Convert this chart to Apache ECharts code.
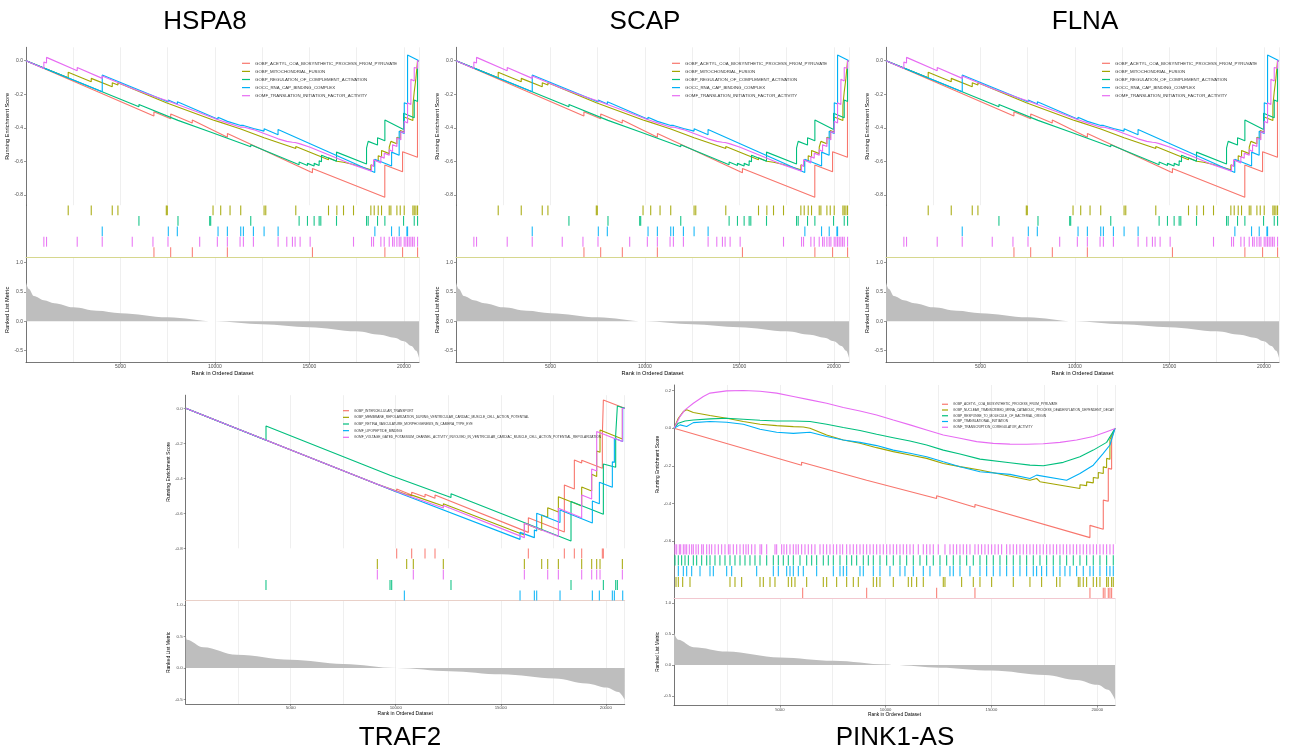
<!DOCTYPE html>
<html>
<head>
<meta charset="utf-8">
<script src="https://cdn.jsdelivr.net/npm/echarts@6/dist/echarts.min.js"></script>
<style>
  html, body { margin: 0; padding: 0; background: #fff; }
  #main { width: 1293px; height: 751px; }
</style>
</head>
<body>
<div id="main"></div>
<script>
// ---------- data ----------
// top row: HSPA8 / SCAP / FLNA show the same five gene sets
const topNames = [
  'GOBP_ACETYL_COA_BIOSYNTHETIC_PROCESS_FROM_PYRUVATE',
  'GOBP_MITOCHONDRIAL_FUSION',
  'GOBP_REGULATION_OF_COMPLEMENT_ACTIVATION',
  'GOCC_RNA_CAP_BINDING_COMPLEX',
  'GOMF_TRANSLATION_INITIATION_FACTOR_ACTIVITY'
];
const topN = 20800;
// running enrichment score, [rank, score] vertices
const topEsRed = [[0,0],[6770,-0.329],[6770,-0.304],[7660,-0.345],[7660,-0.317],[8800,-0.371],[8800,-0.353],[10660,-0.456],[10660,-0.433],[15160,-0.667],[15160,-0.641],[18990,-0.813],[18990,-0.621],[19930,-0.661],[19930,-0.542],[20720,-0.575],[20720,0],[20800,0]];
const topEsOlive = [[0,0],[2234,-0.101],[2234,-0.069],[3453,-0.125],[3453,-0.105],[4565,-0.155],[4565,-0.131],[4865,-0.145],[4865,-0.131],[7426,-0.25],[7426,-0.24],[9899,-0.353],[9899,-0.348],[10305,-0.367],[10305,-0.362],[10800,-0.385],[10800,-0.38],[11365,-0.406],[11365,-0.401],[12601,-0.458],[12601,-0.452],[12690,-0.456],[12690,-0.45],[14279,-0.523],[14279,-0.51],[16010,-0.59],[16010,-0.578],[16452,-0.598],[16452,-0.588],[16805,-0.604],[16805,-0.594],[17334,-0.618],[17334,-0.607],[18252,-0.649],[18252,-0.62],[18429,-0.628],[18429,-0.59],[18641,-0.6],[18641,-0.565],[18817,-0.573],[18817,-0.535],[19224,-0.553],[19224,-0.515],[19312,-0.519],[19312,-0.48],[19630,-0.494],[19630,-0.455],[19806,-0.463],[19806,-0.415],[20018,-0.425],[20018,-0.335],[20477,-0.356],[20477,-0.265],[20548,-0.268],[20548,-0.185],[20636,-0.189],[20636,-0.105],[20724,-0.109],[20724,0],[20800,0]];
const topEsGreen = [[0,0],[5977,-0.274],[5977,-0.26],[8044,-0.355],[8044,-0.345],[9722,-0.423],[9722,-0.413],[11895,-0.512],[11895,-0.5],[14455,-0.619],[14455,-0.603],[14897,-0.623],[14897,-0.611],[15250,-0.627],[15250,-0.611],[15515,-0.623],[15515,-0.595],[15639,-0.601],[15639,-0.563],[16434,-0.599],[16434,-0.544],[18023,-0.615],[18023,-0.52],[18111,-0.524],[18111,-0.48],[18605,-0.502],[18605,-0.458],[18994,-0.476],[18994,-0.353],[19983,-0.41],[19983,-0.313],[20548,-0.34],[20548,-0.234],[20724,-0.243],[20724,0],[20800,0]];
const topEsBlue = [[0,0],[4035,-0.185],[4035,-0.085],[7530,-0.246],[7530,-0.234],[8010,-0.258],[8010,-0.244],[10160,-0.349],[10160,-0.337],[10660,-0.361],[10660,-0.353],[11370,-0.385],[11370,-0.379],[11510,-0.385],[11510,-0.377],[12040,-0.403],[12040,-0.393],[12600,-0.419],[12600,-0.405],[13340,-0.44],[13340,-0.409],[18460,-0.665],[18460,-0.587],[19350,-0.627],[19350,-0.544],[19750,-0.563],[19750,-0.42],[20020,-0.433],[20020,-0.25],[20195,-0.258],[20195,0.034],[20800,0]];
const topEsMagenta = [[0,0],[945,-0.046],[945,-0.008],[1086,-0.014],[1086,0.02],[2711,-0.06],[2711,-0.04],[4035,-0.105],[4035,-0.091],[5624,-0.165],[5624,-0.155],[6719,-0.21],[6719,-0.2],[7514,-0.24],[7514,-0.23],[9192,-0.31],[9192,-0.3],[10128,-0.35],[10128,-0.34],[10658,-0.37],[10658,-0.36],[11330,-0.395],[11330,-0.385],[11506,-0.395],[11506,-0.385],[12036,-0.41],[12036,-0.4],[13343,-0.465],[13343,-0.455],[13802,-0.48],[13802,-0.47],[14102,-0.485],[14102,-0.478],[14243,-0.487],[14243,-0.48],[14508,-0.495],[14508,-0.488],[15038,-0.515],[15038,-0.508],[17334,-0.62],[17334,-0.61],[18288,-0.658],[18288,-0.62],[18394,-0.627],[18394,-0.59],[18782,-0.608],[18782,-0.57],[18959,-0.58],[18959,-0.55],[19224,-0.562],[19224,-0.53],[19400,-0.54],[19400,-0.5],[19630,-0.51],[19630,-0.46],[19842,-0.47],[19842,-0.42],[20018,-0.43],[20018,-0.36],[20195,-0.37],[20195,-0.25],[20371,-0.26],[20371,-0.11],[20548,-0.12],[20548,-0.04],[20724,-0.045],[20724,0],[20800,0]];
// gene hits (rug) per set
const topHitsRed = [6772,7656,8804,10658,15161,18994,19930,20724];
const topHitsOlive = [2234,3453,4565,4865,7426,7479,9899,10305,10800,11365,12601,12690,14279,16010,16452,16805,17334,18252,18429,18641,18817,19224,19312,19630,19806,20018,20477,20548,20636,20724];
const topHitsGreen = [5977,8044,9722,9775,11895,14455,14897,15250,15515,15603,16434,18023,18111,18605,18994,19983,20548,20724];
const topHitsBlue = [4035,7532,8009,10164,10658,11365,11506,12036,12601,13343,18464,19347,19753,20159,20195];
const topHitsMagenta = [945,1086,2711,4035,5624,6719,7514,9192,10128,10658,11330,11506,12036,13343,13802,14102,14243,14508,15038,17334,18288,18394,18782,18959,19224,19400,19489,19630,19753,19842,20018,20106,20195,20283,20371,20460,20548,20724];
// ranked list metric
const topMetricRank = [0,150,415,945,1500,2500,3750,5000,7500,10000,12500,15000,17500,18750,19500,20000,20400,20650,20800];
const topMetricValue = [0.66,0.55,0.43,0.36,0.31,0.24,0.18,0.14,0.07,0.0,-0.05,-0.10,-0.17,-0.23,-0.28,-0.34,-0.42,-0.50,-0.62];

// TRAF2
const traf2Names = [
  'GOBP_INTERCELLULAR_TRANSPORT',
  'GOBP_MEMBRANE_REPOLARIZATION_DURING_VENTRICULAR_CARDIAC_MUSCLE_CELL_ACTION_POTENTIAL',
  'GOBP_RETINA_VASCULATURE_MORPHOGENESIS_IN_CAMERA_TYPE_EYE',
  'GOMF_LIPOPEPTIDE_BINDING',
  'GOMF_VOLTAGE_GATED_POTASSIUM_CHANNEL_ACTIVITY_INVOLVED_IN_VENTRICULAR_CARDIAC_MUSCLE_CELL_ACTION_POTENTIAL_REPOLARIZATION'
];
const traf2N = 20900;
const traf2EsRed = [[0,0],[10044,-0.478],[10044,-0.461],[10758,-0.495],[10758,-0.48],[11393,-0.507],[11393,-0.491],[11869,-0.514],[11869,-0.495],[16313,-0.709],[16313,-0.625],[18027,-0.707],[18027,-0.438],[18503,-0.461],[18503,-0.295],[18852,-0.312],[18852,-0.297],[19836,-0.343],[19836,-0.152],[19884,-0.154],[19884,0.048],[20900,0]];
const traf2EsOlive = [[0,0],[9124,-0.434],[9124,-0.427],[10520,-0.493],[10520,-0.484],[10838,-0.499],[10838,-0.49],[12266,-0.558],[12266,-0.545],[16123,-0.724],[16123,-0.657],[16948,-0.697],[16948,-0.61],[17234,-0.623],[17234,-0.568],[17742,-0.592],[17742,-0.505],[18852,-0.558],[18852,-0.45],[19328,-0.472],[19328,-0.377],[19567,-0.389],[19567,-0.244],[19725,-0.251],[19725,-0.124],[20789,-0.175],[20789,0],[20900,0]];
const traf2EsGreen = [[0,0],[3823,-0.183],[3823,-0.101],[9727,-0.383],[9727,-0.377],[9807,-0.381],[9807,-0.377],[12631,-0.51],[12631,-0.488],[18344,-0.758],[18344,-0.533],[19884,-0.606],[19884,-0.318],[20471,-0.337],[20471,-0.152],[20551,-0.156],[20551,0.013],[20900,0]];
const traf2EsBlue = [[0,0],[10409,-0.495],[10409,-0.486],[15917,-0.749],[15917,-0.709],[16599,-0.739],[16599,-0.695],[16710,-0.701],[16710,-0.6],[17821,-0.653],[17821,-0.581],[19360,-0.655],[19360,-0.53],[19694,-0.545],[19694,-0.423],[20312,-0.451],[20312,-0.305],[20408,-0.309],[20408,-0.171],[20805,-0.19],[20805,0],[20900,0]];
const traf2EsMagenta = [[0,0],[9124,-0.434],[9124,-0.429],[10838,-0.51],[10838,-0.501],[12266,-0.57],[12266,-0.556],[16123,-0.739],[16123,-0.657],[17742,-0.733],[17742,-0.571],[18852,-0.625],[18852,-0.495],[19328,-0.518],[19328,-0.347],[19567,-0.358],[19567,-0.133],[20789,-0.19],[20789,0],[20900,0]];
const traf2HitsRed = [10044,10758,11393,11869,16313,18027,18503,18852,19836,19884];
const traf2HitsOlive = [9124,10520,10837,12265,16123,16948,17234,17742,18852,19328,19566,19725,20789];
const traf2HitsGreen = [3822,9727,9806,12630,18344,19884,20471,20551];
const traf2HitsBlue = [10410,15917,16599,16710,17821,19360,19693,20312,20408,20805];
const traf2HitsMagenta = [9124,10837,12265,16123,17234,17742,18852,19328,19566,19725,20789];
const traf2MetricRank = [0,50,840,2430,5000,7500,10050,12580,15040,17580,19090,20040,20600,20900];
const traf2MetricValue = [0.53,0.45,0.33,0.21,0.13,0.064,0.0,-0.05,-0.10,-0.165,-0.245,-0.31,-0.38,-0.50];

// PINK1-AS
const pinkNames = [
  'GOBP_ACETYL_COA_BIOSYNTHETIC_PROCESS_FROM_PYRUVATE',
  'GOBP_NUCLEAR_TRANSCRIBED_MRNA_CATABOLIC_PROCESS_DEADENYLATION_DEPENDENT_DECAY',
  'GOBP_RESPONSE_TO_MOLECULE_OF_BACTERIAL_ORIGIN',
  'GOBP_TRANSLATIONAL_INITIATION',
  'GOMF_TRANSCRIPTION_COREGULATOR_ACTIVITY'
];
const pinkN = 20840;
const pinkEsRed = [[0,0],[6030,-0.196],[6030,-0.181],[9104,-0.276],[9104,-0.267],[12411,-0.373],[12411,-0.359],[14222,-0.42],[14222,-0.405],[19656,-0.581],[19656,-0.516],[20286,-0.537],[20286,-0.382],[20523,-0.388],[20523,-0.213],[20680,-0.217],[20680,-0.053],[20840,0]];
const pinkEsOlive = [[0,0],[205,0.053],[441,0.089],[599,0.098],[914,0.084],[1701,0.068],[2489,0.053],[3276,0.036],[4064,0.021],[4851,0.014],[5639,0.009],[6111,0.007],[6426,0],[7214,-0.036],[8001,-0.062],[8789,-0.08],[9576,-0.103],[10364,-0.124],[11151,-0.142],[11939,-0.16],[12726,-0.187],[13514,-0.204],[14459,-0.222],[16821,-0.276],[17136,-0.267],[17294,-0.284],[19184,-0.32],[19184,-0.3],[19500,-0.305],[19500,-0.285],[19814,-0.29],[19814,-0.262],[20050,-0.266],[20050,-0.235],[20286,-0.24],[20286,-0.205],[20444,-0.21],[20444,-0.16],[20600,-0.165],[20600,-0.06],[20840,0]];
const pinkEsGreen = [[0,0],[205,0.027],[520,0.039],[914,0.044],[1701,0.05],[2489,0.053],[3276,0.048],[4064,0.043],[4851,0.039],[5639,0.039],[6426,0.036],[7214,0.021],[8001,0.004],[8789,-0.012],[9576,-0.032],[10364,-0.05],[11151,-0.068],[11939,-0.089],[12726,-0.116],[13514,-0.137],[14459,-0.164],[15876,-0.183],[16821,-0.196],[17451,-0.199],[18396,-0.181],[19184,-0.151],[19814,-0.116],[20444,-0.075],[20790,-0.01],[20840,0]];
const pinkEsBlue = [[0,0],[284,0.018],[599,0.009],[914,0.03],[1701,0.036],[2489,0.032],[3276,0.021],[4064,-0.005],[4851,-0.021],[5639,-0.027],[6426,-0.021],[7214,-0.044],[8001,-0.062],[8789,-0.075],[9576,-0.092],[10364,-0.116],[11151,-0.133],[11939,-0.151],[12726,-0.178],[13514,-0.204],[14459,-0.231],[15876,-0.245],[16821,-0.267],[17136,-0.249],[18554,-0.276],[19184,-0.24],[19814,-0.196],[20286,-0.133],[20601,-0.089],[20840,0]];
const pinkEsMagenta = [[0,0],[284,0.062],[520,0.098],[914,0.133],[1386,0.169],[1701,0.187],[2489,0.199],[3276,0.201],[4064,0.197],[4851,0.187],[5639,0.169],[6426,0.151],[7214,0.133],[8001,0.11],[8789,0.092],[9576,0.071],[10364,0.044],[11151,0.018],[11939,-0.009],[12726,-0.036],[13514,-0.053],[14301,-0.071],[15089,-0.08],[15876,-0.084],[16664,-0.085],[17451,-0.082],[18239,-0.075],[19026,-0.062],[19814,-0.044],[20444,-0.018],[20790,-0.004],[20840,0]];
const pinkHitsRed = [6080,9104,12411,14222,19656,20286,20365,20523,20601,20680];
const pinkHitsOlive = [95,205,410,756,2646,2882,3197,4064,4221,4536,4772,5402,5560,5717,6269,7056,7214,7686,8159,8474,8710,9419,9576,9734,10364,11072,11230,11466,11781,12726,12805,13592,14144,14459,15010,16034,16821,17372,18081,18239,19105,19184,19341,19499,19814,19971,20129,20444,20523,20680,20759];
const pinkHitsBlue = [205,441,599,835,1229,1701,1859,2489,2725,3906,4694,4930,5324,5481,5639,5875,6111,6741,7529,7844,8001,8159,8789,8946,9419,9734,10206,10679,10915,11309,11781,12096,12569,13041,13199,13514,13986,14459,14774,15089,15404,15719,16034,16349,16664,16979,17136,17372,17609,17924,18239,18475,18711,19026,19341,19656,19814,20129,20444,20601,20759];
const pinkHitsGreen = [47,205,360,520,680,914,1070,1307,1544,1701,1937,2170,2410,2646,2882,3119,3355,3590,3827,4064,4379,4694,4930,5166,5402,5639,5954,6269,6505,6741,7056,7292,7529,7844,8159,8395,8631,8946,9183,9419,9734,10049,10364,10679,10994,11309,11624,11939,12254,12569,12884,13199,13514,13829,14144,14459,14774,15089,15404,15719,16034,16349,16664,16979,17294,17609,17924,18239,18554,18869,19184,19499,19814,20129,20444,20759];
const pinkHitsMagenta = [47,126,252,315,441,520,599,725,835,914,1040,1150,1307,1386,1544,1670,1780,1937,2095,2252,2410,2567,2646,2804,2961,3119,3276,3402,3512,3670,3827,4064,4142,4379,4772,4851,5087,5198,5324,5481,5639,5765,5875,6032,6190,6347,6505,6662,6899,7056,7214,7371,7529,7686,7844,7970,8159,8316,8474,8631,8789,8946,9104,9261,9419,9576,9734,9891,10049,10206,10364,10521,10679,10836,10994,11151,11309,11545,11781,11939,12096,12254,12490,12805,13041,13199,13356,13514,13671,13829,13986,14222,14380,14537,14695,14852,15010,15167,15325,15482,15719,15876,16034,16191,16349,16506,16664,16821,16979,17136,17294,17451,17609,17766,17924,18081,18239,18396,18554,18711,18869,19026,19184,19341,19499,19656,19814,19971,20129,20286,20444,20601,20759];
const pinkMetricRank = [0,200,920,2490,5010,7530,10050,10370,12570,15010,17530,19030,20020,20520,20840];
const pinkMetricValue = [0.52,0.41,0.29,0.22,0.124,0.07,0.01,0.0,-0.043,-0.09,-0.16,-0.24,-0.32,-0.40,-0.56];

// ---------- chart ----------
const COLORS = ['#F8766D', '#A3A500', '#00BF7D', '#00B0F6', '#E76BF3'];
const FONT = '"Liberation Sans", Arial, sans-serif';
const AXIS_COL = '#555555';
const LABEL_COL = '#4d4d4d';
const GRID_COL = '#ebebeb';

const option = {
  animation: false,
  backgroundColor: '#ffffff',
  grid: [], xAxis: [], yAxis: [], series: [], legend: [], graphic: []
};

function addPanel(p) {
  const g = option.grid.length;
  option.grid.push({ left: p.left, top: p.esTop, width: p.width, height: p.esBottom - p.esTop });
  option.grid.push({ left: p.left, top: p.esBottom, width: p.width, height: p.rugBottom - p.esBottom });
  option.grid.push({ left: p.left, top: p.rugBottom, width: p.width, height: p.rankBottom - p.rugBottom });

  const gridLine = { show: true, lineStyle: { color: GRID_COL, width: 0.8 } };
  const tickText = { fontSize: p.tickFont, color: LABEL_COL, fontFamily: FONT };
  const nameText = { fontSize: p.nameFont, color: '#000', fontFamily: FONT };

  // enrichment score panel
  option.xAxis.push({
    gridIndex: g, type: 'value', min: 0, max: p.N, interval: 5000,
    axisLine: { show: false }, axisTick: { show: false }, axisLabel: { show: false },
    splitLine: gridLine, minorTick: { show: false, splitNumber: 2 }, minorSplitLine: gridLine
  });
  option.yAxis.push({
    gridIndex: g, type: 'value', min: p.esMin, max: p.esMax,
    name: 'Running Enrichment Score', nameLocation: 'middle', nameGap: p.yNameGap, nameTextStyle: nameText,
    axisLine: { show: true, lineStyle: { color: AXIS_COL, width: 0.8 } },
    axisTick: { show: true, length: 2, customValues: p.esTicks, lineStyle: { color: AXIS_COL, width: 0.6 } },
    axisLabel: Object.assign({ customValues: p.esTicks, margin: 3, formatter: v => v.toFixed(1) }, tickText),
    splitLine: { show: false }
  });
  // rug panel (baseline drawn at its bottom)
  option.xAxis.push({
    gridIndex: g + 1, type: 'value', min: 0, max: p.N, position: 'bottom',
    axisLine: { show: true, onZero: false, lineStyle: { color: p.baseColor, width: 1 } },
    axisTick: { show: false }, axisLabel: { show: false }, splitLine: { show: false }
  });
  option.yAxis.push({
    gridIndex: g + 1, type: 'value', min: 0, max: 5, inverse: true,
    axisLine: { show: true, onZero: false, lineStyle: { color: AXIS_COL, width: 0.8 } },
    axisTick: { show: false }, axisLabel: { show: false }, splitLine: { show: false }
  });
  // ranked list metric panel
  option.xAxis.push({
    gridIndex: g + 2, type: 'value', min: 0, max: p.N, interval: 5000,
    name: 'Rank in Ordered Dataset', nameLocation: 'middle', nameGap: p.xNameGap, nameTextStyle: nameText,
    axisLine: { show: true, onZero: false, lineStyle: { color: AXIS_COL, width: 0.8 } },
    axisTick: { show: true, length: 2, lineStyle: { color: AXIS_COL, width: 0.6 } },
    axisLabel: Object.assign({ showMinLabel: false, showMaxLabel: false, margin: 2, formatter: v => String(v) }, tickText),
    splitLine: gridLine, minorTick: { show: false, splitNumber: 2 }, minorSplitLine: gridLine
  });
  option.yAxis.push({
    gridIndex: g + 2, type: 'value', min: p.rankMin, max: p.rankMax,
    name: 'Ranked List Metric', nameLocation: 'middle', nameGap: p.yNameGap, nameTextStyle: nameText,
    axisLine: { show: true, lineStyle: { color: AXIS_COL, width: 0.8 } },
    axisTick: { show: true, length: 2, customValues: [-0.5, 0, 0.5, 1], lineStyle: { color: AXIS_COL, width: 0.6 } },
    axisLabel: Object.assign({ customValues: [-0.5, 0, 0.5, 1], margin: 3, formatter: v => v.toFixed(1) }, tickText),
    splitLine: { show: false }
  });

  // metric area
  option.series.push({
    type: 'line', xAxisIndex: g + 2, yAxisIndex: g + 2, silent: true,
    data: p.metricRank.map((r, k) => [r, p.metricValue[k]]),
    showSymbol: false, symbol: 'none', smooth: 0.35, smoothMonotone: 'x',
    lineStyle: { width: 0 }, areaStyle: { color: '#bebebe', opacity: 1 }, itemStyle: { color: '#bebebe' }
  });

  p.names.forEach((name, i) => {
    const color = COLORS[i];
    const row = p.rugRow[i];
    option.series.push({
      type: 'line', name: name, xAxisIndex: g, yAxisIndex: g, silent: true,
      data: p.es[i], showSymbol: false, symbol: 'none',
      lineStyle: { width: 1.1, color: color }, itemStyle: { color: color }, z: 3
    });
    option.series.push({
      type: 'custom', xAxisIndex: g + 1, yAxisIndex: g + 1, silent: true,
      data: p.hits[i].map(h => [h, row]),
      encode: { x: 0, y: 1 },
      renderItem: (params, api) => {
        const a = api.coord([api.value(0), row + 0.03]);
        const b = api.coord([api.value(0), row + 0.97]);
        return {
          type: 'line',
          shape: { x1: a[0], y1: a[1], x2: b[0], y2: b[1] },
          style: { stroke: color, lineWidth: 1.1, opacity: 0.9 }
        };
      }
    });
  });

  option.legend.push({
    data: p.names, orient: 'vertical', left: p.legLeft, top: p.legTop, padding: 0,
    icon: 'rect', itemWidth: p.legIconW, itemHeight: 1.2, itemGap: p.legGap,
    selectedMode: false,
    textStyle: { fontSize: p.legFont, lineHeight: p.legLine, color: '#333', fontFamily: FONT }
  });
}

const topEs = [topEsRed, topEsOlive, topEsGreen, topEsBlue, topEsMagenta];
const topHits = [topHitsRed, topHitsOlive, topHitsGreen, topHitsBlue, topHitsMagenta];
[0, 1, 2].forEach(k => {
  addPanel({
    left: 26 + 430 * k, width: 393, N: topN,
    esTop: 47.3, esBottom: 205.2, esMin: -0.86, esMax: 0.08, esTicks: [-0.8, -0.6, -0.4, -0.2, 0],
    rugBottom: 257.4, rankBottom: 362.4, rankMin: -0.70, rankMax: 1.09,
    names: topNames, es: topEs, hits: topHits, rugRow: [4, 0, 1, 2, 3],
    metricRank: topMetricRank, metricValue: topMetricValue,
    baseColor: '#d6d78e', tickFont: 5, nameFont: 5.6, yNameGap: 13, xNameGap: 7,
    legLeft: 242 + 430 * k, legTop: 60.3, legIconW: 8, legGap: 2.1, legFont: 4.35, legLine: 6
  });
});

addPanel({
  left: 185.7, width: 439, N: traf2N,
  esTop: 395.2, esBottom: 548.3, esMin: -0.80, esMax: 0.075, esTicks: [-0.8, -0.6, -0.4, -0.2, 0],
  rugBottom: 600.7, rankBottom: 704, rankMin: -0.571, rankMax: 1.068,
  names: traf2Names,
  es: [traf2EsRed, traf2EsOlive, traf2EsGreen, traf2EsBlue, traf2EsMagenta],
  hits: [traf2HitsRed, traf2HitsOlive, traf2HitsGreen, traf2HitsBlue, traf2HitsMagenta],
  rugRow: [0, 1, 3, 4, 2],
  metricRank: traf2MetricRank, metricValue: traf2MetricValue,
  baseColor: '#e9d0c8', tickFont: 4.4, nameFont: 5, yNameGap: 11, xNameGap: 6,
  legLeft: 343, legTop: 408.2, legIconW: 6, legGap: 1.65, legFont: 3.25, legLine: 5
});

addPanel({
  left: 674, width: 441, N: pinkN,
  esTop: 385, esBottom: 544, esMin: -0.615, esMax: 0.23, esTicks: [-0.6, -0.4, -0.2, 0, 0.2],
  rugBottom: 598.3, rankBottom: 705.6, rankMin: -0.656, rankMax: 1.08,
  names: pinkNames,
  es: [pinkEsRed, pinkEsOlive, pinkEsGreen, pinkEsBlue, pinkEsMagenta],
  hits: [pinkHitsRed, pinkHitsOlive, pinkHitsGreen, pinkHitsBlue, pinkHitsMagenta],
  rugRow: [4, 3, 1, 2, 0],
  metricRank: pinkMetricRank, metricValue: pinkMetricValue,
  baseColor: '#f2c8d0', tickFont: 4.2, nameFont: 4.8, yNameGap: 10, xNameGap: 5.5,
  legLeft: 942, legTop: 402, legIconW: 6, legGap: 1.25, legFont: 3.2, legLine: 4.5
});

// panel titles
const titles = [['HSPA8', 205, 22], ['SCAP', 645, 22], ['FLNA', 1085, 22], ['TRAF2', 400, 738], ['PINK1-AS', 895, 738]];
titles.forEach(t => {
  option.graphic.push({
    type: 'text', x: t[1], y: t[2], silent: true,
    style: { text: t[0], fontSize: 26, fontFamily: FONT, fill: '#000', align: 'center', verticalAlign: 'middle' }
  });
});

const chart = echarts.init(document.getElementById('main'), null, { renderer: 'canvas' });
chart.setOption(option);
window.addEventListener('resize', () => chart.resize());
</script>
</body>
</html>
